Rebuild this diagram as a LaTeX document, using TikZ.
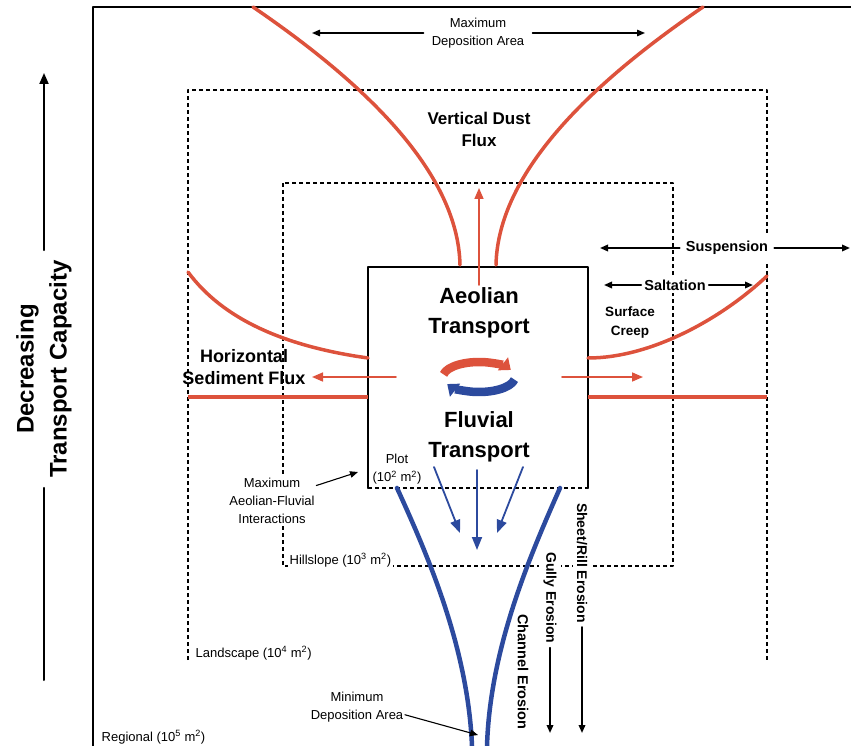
\documentclass[tikz,border=0pt]{standalone}
\usepackage{fontspec}
\setmainfont{Liberation Sans}
\usetikzlibrary{arrows.meta}
\definecolor{aeolred}{RGB}{221,82,60}
\definecolor{fluvblue}{RGB}{44,74,158}

\begin{document}
\begin{tikzpicture}[x=1pt, y=-1pt, line cap=round, line join=round, >={Triangle[length=8pt,width=6.5pt]},
  frame/.style={line width=2.4pt},
  scalebox/.style={line width=1.1pt, line cap=butt, dash pattern=on 4pt off 3pt},
  redflux/.style={aeolred, line width=3.5pt},
  redbar/.style={aeolred, line width=4.5pt, line cap=butt},
  redarrow/.style={aeolred, line width=1.6pt, -{Triangle[length=11pt,width=9pt]}},
  bluecurve/.style={fluvblue, line width=4.5pt},
  bluearrow/.style={fluvblue, line width=1.8pt, -{Triangle[length=13pt,width=10pt]}},
  lblarrow/.style={line width=1.4pt, ->},
  bigtxt/.style={font=\fontsize{22}{30}\selectfont\bfseries, align=center},
  boldtxt/.style={font=\fontsize{17}{22}\selectfont\bfseries, align=center},
  smallbold/.style={font=\fontsize{13.5}{19}\selectfont\bfseries, align=center, fill=white, inner sep=1.5pt},
  note/.style={font=\fontsize{13}{18}\selectfont, align=center, fill=white, inner sep=1.5pt}]
  \useasboundingbox (0,0) rectangle (851,746);

  % outer frame and the nested scale boxes
  \draw[frame] (93,746) -- (93,7) -- (851,7);
  \draw[scalebox] (188,660) -- (188,90) -- (767,90) -- (767,660);
  \draw[scalebox] (283,183) rectangle (673,566);
  \draw[frame] (368,488) -- (368,267) -- (588,267) -- (588,488);
  \draw[scalebox] (368,488) -- (588,488);

  % aeolian fluxes
  \draw[redflux] (253,7) .. controls (360,80) and (458,170) .. (460,265);
  \draw[redflux] (703,7) .. controls (596,80) and (498,170) .. (496,265);
  \draw[redflux] (188,272) .. controls (222,318) and (282,346) .. (368,358);
  \draw[redflux] (588,358) .. controls (650,358) and (720,320) .. (767,276);
  \draw[redbar] (188,397) -- (368,397);
  \draw[redbar] (588,397) -- (767,397);
  \coordinate (uptail) at (479,285);
  \coordinate (uphead) at (479,188);
  \coordinate (ltail) at (396,377);
  \coordinate (lhead) at (312,377);
  \coordinate (rtail) at (562,377);
  \coordinate (rhead) at (643,377);
  \draw[redarrow] (uptail) -- (uphead);
  \draw[redarrow] (ltail) -- (lhead);
  \draw[redarrow] (rtail) -- (rhead);

  % fluvial fluxes
  \draw[bluecurve] (397,488) .. controls (430,560) and (468,650) .. (472,746);
  \draw[bluecurve] (560,488) .. controls (528,560) and (490,650) .. (487,746);
  \coordinate (btail) at (477,470);
  \coordinate (bhead) at (477,550);
  \coordinate (bltail) at (434,467);
  \coordinate (blhead) at (460,533);
  \coordinate (brtail) at (523,467);
  \coordinate (brhead) at (497,533);
  \draw[bluearrow] (btail) -- (bhead);
  \draw[bluearrow] (bltail) -- (blhead);
  \draw[bluearrow] (brtail) -- (brhead);

  % exchange between the two transports
  \coordinate (cyc) at (479,377);
  \draw[aeolred, line width=8.5pt, line cap=butt, -{Triangle[length=10pt,width=16pt]}]
    ([shift={(170:36pt and 15pt)}]cyc) arc[start angle=170, end angle=28, x radius=36pt, y radius=15pt];
  \draw[fluvblue, line width=8.5pt, line cap=butt, -{Triangle[length=10pt,width=16pt]}]
    ([shift={(-10:36pt and 15pt)}]cyc) arc[start angle=-10, end angle=-152, x radius=36pt, y radius=15pt];

  % labels
  \node[bigtxt] (aeol) at (479,313) {Aeolian\\Transport};
  \node[bigtxt] (fluv) at (479,437) {Fluvial\\Transport};
  \node[boldtxt] (vdf) at (479,129) {Vertical Dust\\Flux};
  \node[boldtxt, font=\fontsize{18}{22}\selectfont\bfseries] (hsf) at (244,367) {Horizontal\\Sediment Flux};
  \node[smallbold] (creep) at (630,323) {Surface\\Creep};
  \node[smallbold, font=\fontsize{14.5}{19}\selectfont\bfseries, inner sep=6pt] (susp) at (727,248) {Suspension};
  \node[smallbold, font=\fontsize{14.5}{19}\selectfont\bfseries, inner sep=3pt] (salt) at (675,285) {Saltation};
  \coordinate (susl) at (600,248);
  \coordinate (susr) at (850,248);
  \coordinate (sall) at (604,285);
  \coordinate (salr) at (753,285);
  \draw[lblarrow, line width=1.8pt] (susp.west) -- (susl);
  \draw[lblarrow, line width=1.8pt] (susp.east) -- (susr);
  \draw[lblarrow, line width=1.8pt] (salt.west) -- (sall);
  \draw[lblarrow, line width=1.8pt] (salt.east) -- (salr);

  \node[note, inner sep=8pt, fill=none] (maxdep) at (478,33) {Maximum\\Deposition Area};
  \coordinate (mdl) at (312,33);
  \coordinate (mdr) at (645,33);
  \draw[lblarrow] (maxdep.west) -- (mdl);
  \draw[lblarrow] (maxdep.east) -- (mdr);

  \node[note, fill=none] (plot) at (397,469) {Plot\\(10\textsuperscript{2} m\textsuperscript{2})};
  \node[note] (maxint) at (272,501) {Maximum\\Aeolian-Fluvial\\Interactions};
  \coordinate (maxinthead) at (358,472);
  \draw[lblarrow, line width=1.1pt] ([yshift=-9pt]maxint.north east) -- (maxinthead);
  \node[note, anchor=west] (hill) at (288,560) {Hillslope (10\textsuperscript{3} m\textsuperscript{2})};
  \node[note, anchor=west] (land) at (194,653) {Landscape (10\textsuperscript{4} m\textsuperscript{2})};
  \node[note, anchor=west] (reg) at (100,737) {Regional (10\textsuperscript{5} m\textsuperscript{2})};
  \node[note, fill=none] (mindep) at (357,707) {Minimum\\Deposition Area};
  \coordinate (mindephead) at (478,735);
  \draw[lblarrow, line width=1.1pt] ([yshift=9pt]mindep.south east) -- (mindephead);

  % erosion scales
  \node[smallbold, rotate=-90, font=\fontsize{14}{18}\selectfont\bfseries, inner sep=4pt] (sheet) at (582,563) {Sheet/Rill Erosion};
  \node[smallbold, rotate=-90, font=\fontsize{14}{18}\selectfont\bfseries, inner sep=4pt] (gully) at (550,598) {Gully Erosion};
  \node[smallbold, rotate=-90, font=\fontsize{14.5}{18}\selectfont\bfseries] (chan) at (523,672) {Channel Erosion};
  \coordinate (sheetend) at (582,733);
  \coordinate (gullyend) at (550,733);
  \draw[lblarrow, line width=1.8pt] (sheet.east) -- (sheetend);
  \draw[lblarrow, line width=1.8pt] (gully.east) -- (gullyend);

  % transport capacity axis
  \node[bigtxt, font=\fontsize{24}{33}\selectfont\bfseries, rotate=90, inner sep=10pt] (dtc) at (44,369) {Decreasing\\Transport Capacity};
  \coordinate (dtop) at (44,73);
  \coordinate (dbot) at (44,680);
  \draw[lblarrow, line width=2pt, -{Triangle[length=11pt,width=9pt]}] (dtc.east) -- (dtop);
  \draw[line width=2pt] (dtc.west) -- (dbot);
\end{tikzpicture}
\end{document}
